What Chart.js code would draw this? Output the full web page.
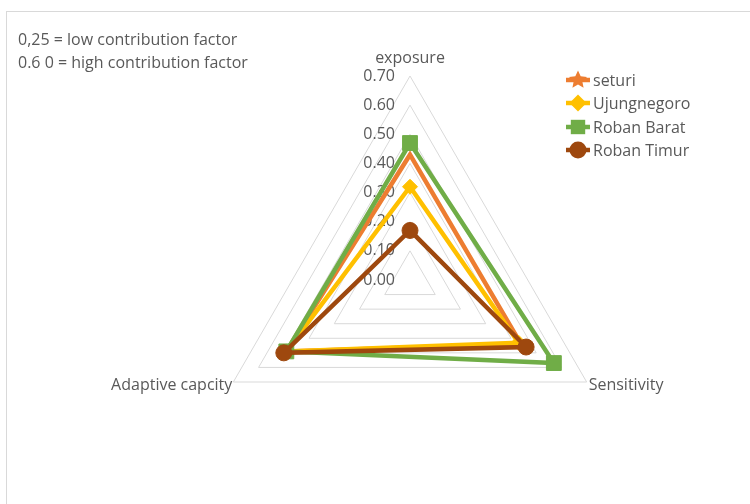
<!DOCTYPE html>
<html>
<head>
<meta charset="utf-8">
<script src="https://cdn.jsdelivr.net/npm/chart.js@4.4.0/dist/chart.umd.min.js"></script>
<style>
  body { margin: 0; background: #fff; }
  #wrap { position: relative; width: 750px; height: 504px; overflow: hidden; font-family: "Open Sans", sans-serif; color: #595959; }
  #frame { position: absolute; left: 6px; top: 11px; width: 800px; height: 600px; border-left: 1px solid #d9d9d9; border-top: 1px solid #d9d9d9; }
  #note { position: absolute; left: 18px; top: 28px; font-size: 16px; line-height: 23px; white-space: nowrap; }
  #legend { position: absolute; left: 565px; top: 68px; font-size: 16px; }
  .item { display: flex; align-items: center; height: 23.5px; white-space: nowrap; }
  .item canvas { margin-right: 2px; }
  #chart { position: absolute; left: 0; top: 0; }
</style>
</head>
<body>
<div id="wrap">
  <div id="frame"></div>
  <canvas id="chart" width="750" height="504"></canvas>
  <div id="note">0,25 = low contribution factor<br>0.6 0 = high contribution factor</div>
  <div id="legend"></div>
</div>
<script>
// categorias e valores
const categories = ['exposure', 'Sensitivity', 'Adaptive capcity'];
const tickValues = [0, 0.1, 0.2, 0.3, 0.4, 0.5, 0.6, 0.7];

const seturi = [0.43, 0.44, 0.49];
const ujungnegoro = [0.32, 0.43, 0.49];
const robanBarat = [0.47, 0.57, 0.49];
const robanTimur = [0.17, 0.46, 0.50];

const seriesNames = ['seturi', 'Ujungnegoro', 'Roban Barat', 'Roban Timur'];
const seriesColors = ['#ED7D31', '#FFC000', '#70AD47', '#9E480E'];
const seriesMarkers = ['star', 'rectRot', 'rect', 'circle'];

// desenha um marcador num contexto 2d
function drawMarker(ctx, style, x, y, size, color) {
  ctx.fillStyle = color;
  ctx.beginPath();
  if (style === 'star') {
    for (let i = 0; i < 10; i++) {
      const r = i % 2 === 0 ? size : size * 0.48;
      const a = -Math.PI / 2 + i * Math.PI / 5;
      ctx.lineTo(x + r * Math.cos(a), y + r * Math.sin(a));
    }
    ctx.closePath();
  } else if (style === 'rectRot') {
    ctx.moveTo(x, y - size);
    ctx.lineTo(x + size, y);
    ctx.lineTo(x, y + size);
    ctx.lineTo(x - size, y);
    ctx.closePath();
  } else if (style === 'rect') {
    ctx.rect(x - size * 0.8, y - size * 0.8, size * 1.6, size * 1.6);
  } else {
    ctx.arc(x, y, size, 0, Math.PI * 2);
  }
  ctx.fill();
}

function makeStar(color, size) {
  const c = document.createElement('canvas');
  c.width = size * 2 + 2;
  c.height = size * 2 + 2;
  drawMarker(c.getContext('2d'), 'star', size + 1, size + 1, size, color);
  return c;
}

function makeDataset(label, data, i) {
  const color = seriesColors[i];
  return {
    label: label,
    data: data,
    borderColor: color,
    backgroundColor: color,
    borderWidth: 4.5,
    fill: false,
    pointStyle: seriesMarkers[i] === 'star' ? makeStar(color, 9) : seriesMarkers[i],
    pointRadius: [0, 7.5, 10.5, 8][i],
    pointBackgroundColor: color,
    pointBorderColor: color,
    pointBorderWidth: 1,
    order: 3 - i
  };
}

// textos dos eixos e rótulos dos ticks
const radarText = {
  id: 'radarText',
  beforeDatasetsDraw(chart) {
    const r = chart.scales.r;
    const ctx = chart.ctx;
    ctx.save();
    ctx.font = '16px "Open Sans"';
    ctx.fillStyle = '#595959';
    ctx.textBaseline = 'middle';
    ctx.textAlign = 'right';
    tickValues.forEach(v => {
      const y = r.yCenter - r.getDistanceFromCenterForValue(v);
      ctx.fillText(v.toFixed(2), r.xCenter - 15, y);
    });
    categories.forEach((name, i) => {
      const p = r.getPointPositionForValue(i, r.max);
      const dx = p.x - r.xCenter;
      if (Math.abs(dx) < 1) {
        ctx.textAlign = 'center';
        ctx.fillText(name, p.x, p.y - 18);
      } else if (dx > 0) {
        ctx.textAlign = 'left';
        ctx.fillText(name, p.x + 2, p.y + 3);
      } else {
        ctx.textAlign = 'right';
        ctx.fillText(name, p.x - 1, p.y + 3);
      }
    });
    ctx.restore();
  }
};

const chart = new Chart(document.getElementById('chart'), {
  type: 'radar',
  data: {
    labels: categories,
    datasets: [
      makeDataset(seriesNames[0], seturi, 0),
      makeDataset(seriesNames[1], ujungnegoro, 1),
      makeDataset(seriesNames[2], robanBarat, 2),
      makeDataset(seriesNames[3], robanTimur, 3)
    ]
  },
  options: {
    responsive: false,
    animation: false,
    layout: { padding: { left: 206, right: 136, top: 76, bottom: 20 } },
    elements: { line: { tension: 0 } },
    plugins: {
      legend: { display: false },
      tooltip: { enabled: false }
    },
    scales: {
      r: {
        min: 0,
        max: 0.7,
        ticks: { stepSize: 0.1, display: false },
        grid: { color: '#d9d9d9', lineWidth: 1 },
        angleLines: { display: false },
        pointLabels: { display: false }
      }
    }
  },
  plugins: [radarText]
});

// legenda com linha + marcador
const legend = document.getElementById('legend');
chart.data.datasets.forEach((ds, i) => {
  const row = document.createElement('div');
  row.className = 'item';
  const icon = document.createElement('canvas');
  icon.width = 26;
  icon.height = 20;
  const ictx = icon.getContext('2d');
  ictx.strokeStyle = seriesColors[i];
  ictx.lineWidth = 4.5;
  ictx.beginPath();
  ictx.moveTo(1, 10);
  ictx.lineTo(25, 10);
  ictx.stroke();
  drawMarker(ictx, seriesMarkers[i], 13, 10, [9.5, 8.5, 9, 8.5][i], seriesColors[i]);
  const text = document.createElement('span');
  text.textContent = ds.label;
  row.appendChild(icon);
  row.appendChild(text);
  legend.appendChild(row);
});
</script>
</body>
</html>
